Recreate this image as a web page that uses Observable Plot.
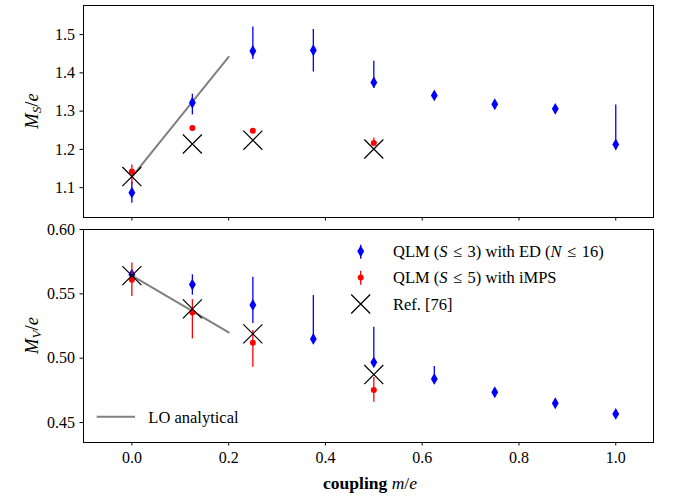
<!DOCTYPE html>
<html><head><meta charset="utf-8">
<script src="https://cdn.jsdelivr.net/npm/d3@7"></script>
<script src="https://cdn.jsdelivr.net/npm/@observablehq/plot@0.6"></script>
<style>
body{margin:0;background:#fff;}
#chart{width:673px;height:497px;overflow:hidden;}
#chart svg{display:block;}
</style></head><body><div id="chart"></div>
<script>
// ---- data ----
const couplingED = [0, 0.125, 0.25, 0.375, 0.5, 0.625, 0.75, 0.875, 1.0];
const couplingMPS = [0, 0.125, 0.25, 0.5];
const couplingRef = [0, 0.125, 0.25, 0.5];
const couplingLO = [0, 0.2];

// scalar mass M_S/e
const msED   = [1.087, 1.322, 1.457, 1.459, 1.375, 1.341, 1.318, 1.306, 1.213];
const msEDlo = [1.059, 1.290, 1.435, 1.402, 1.359, 1.333, 1.310, 1.298, 1.198];
const msEDhi = [1.115, 1.344, 1.520, 1.513, 1.430, 1.349, 1.326, 1.314, 1.316];
const msMPS   = [1.142, 1.256, 1.249, 1.217];
const msMPSlo = [1.107, 1.252, 1.245, 1.210];
const msMPShi = [1.159, 1.260, 1.253, 1.230];
const msRef = [1.129, 1.214, 1.224, 1.201];
const msLO = [1.128, 1.442];

// vector mass M_V/e
const mvED   = [0.565, 0.5572, 0.5414, 0.515, 0.4968, 0.4839, 0.4735, 0.465, 0.4567];
const mvEDlo = [0.562, 0.549, 0.527, 0.511, 0.493, 0.480, 0.4705, 0.462, 0.4537];
const mvEDhi = [0.568, 0.5648, 0.5629, 0.5487, 0.524, 0.4935, 0.4765, 0.468, 0.4597];
const mvMPS   = [0.5609, 0.5355, 0.5121, 0.4753];
const mvMPSlo = [0.548, 0.515, 0.4929, 0.4657];
const mvMPShi = [0.574, 0.5455, 0.5215, 0.485];
const mvRef = [0.5642, 0.5383, 0.5189, 0.4873];
const mvLO = [0.5642, 0.520];

const xTicks = [0, 0.2, 0.4, 0.6, 0.8, 1.0];
const msTicks = [1.1, 1.2, 1.3, 1.4, 1.5];
const mvTicks = [0.45, 0.50, 0.55, 0.60];

// ---- tables ----
const tab = (xs, ys, lo, hi) => xs.map((x, i) => ({x, y: ys[i], lo: lo ? lo[i] : null, hi: hi ? hi[i] : null}));
const topED = tab(couplingED, msED, msEDlo, msEDhi);
const topMPS = tab(couplingMPS, msMPS, msMPSlo, msMPShi);
const topRef = tab(couplingRef, msRef);
const topLO = tab(couplingLO, msLO);
const botED = tab(couplingED, mvED, mvEDlo, mvEDhi);
const botMPS = tab(couplingMPS, mvMPS, mvMPSlo, mvMPShi);
const botRef = tab(couplingRef, mvRef);
const botLO = tab(couplingLO, mvLO);

const FONT = "Liberation Serif";
const BLUE = "#0000ff", RED = "#ff0000";
const xDomain = [-0.1, 1.078];

function seriesMarks(ed, mps, ref, lo) {
  return [
    Plot.line(lo, {x: "x", y: "y", stroke: "#808080", strokeWidth: 2}),
    Plot.ruleX(ed, {x: "x", y1: "lo", y2: "hi", stroke: BLUE, strokeWidth: 1.3}),
    Plot.dot(ed, {x: "x", y: "y", symbol: "diamond", r: 3.6, fill: BLUE, stroke: "none"}),
    Plot.ruleX(mps, {x: "x", y1: "lo", y2: "hi", stroke: RED, strokeWidth: 1.3}),
    Plot.dot(mps, {x: "x", y: "y", r: 3, fill: RED, stroke: "none"}),
    Plot.dot(ref, {x: "x", y: "y", symbol: "times", r: 8.7, stroke: "black", strokeWidth: 1.2, fill: "none"})
  ];
}

const styleObj = {fontFamily: FONT, fontSize: "16px", color: "black", background: "white", overflow: "visible"};

const topPlot = Plot.plot({
  width: 673, height: 222,
  marginLeft: 83, marginRight: 20, marginTop: 5, marginBottom: 5,
  x: {domain: xDomain},
  y: {domain: [1.022, 1.576]},
  style: styleObj,
  marks: [
    Plot.axisY({ticks: msTicks, tickFormat: d3.format(".1f"), tickSize: 3.5, tickPadding: 5, label: null}),
    Plot.axisX({ticks: xTicks, tickFormat: () => "", tickSize: 3.5, label: null}),
    ...seriesMarks(topED, topMPS, topRef, topLO),
    Plot.frame({stroke: "black", strokeWidth: 1})
  ]
});

const bottomPlot = Plot.plot({
  width: 673, height: 275,
  marginLeft: 83, marginRight: 20, marginTop: 7, marginBottom: 55,
  x: {domain: xDomain},
  y: {domain: [0.4345, 0.60]},
  style: styleObj,
  marks: [
    Plot.axisY({ticks: mvTicks, tickFormat: d3.format(".2f"), tickSize: 3.5, tickPadding: 5, label: null}),
    Plot.axisX({ticks: xTicks, tickFormat: d3.format(".1f"), tickSize: 3.5, tickPadding: 6, label: null}),
    ...seriesMarks(botED, botMPS, botRef, botLO),
    Plot.frame({stroke: "black", strokeWidth: 1})
  ]
});

const chart = document.getElementById("chart");
chart.appendChild(topPlot);
chart.appendChild(bottomPlot);

// rich text helper
function rich(sel, parts) {
  parts.forEach(p => {
    const t = sel.append("tspan").text(p.t);
    if (p.i) t.attr("font-style", "italic");
    if (p.b) t.attr("font-weight", "bold");
    if (p.sub) t.attr("font-size", "0.72em").attr("baseline-shift", "-25%");
  });
  return sel;
}

// y labels
function yLabel(svg, parts, cy) {
  const g = d3.select(svg).append("text")
    .attr("transform", `translate(38,${cy}) rotate(-90)`)
    .attr("text-anchor", "middle")
    .attr("font-family", FONT).attr("font-size", 18.5).attr("fill", "black");
  rich(g, parts);
}
yLabel(topPlot, [{t: "M", i: 1}, {t: "S", i: 1, sub: 1}, {t: "/"}, {t: "e", i: 1}], 111);
yLabel(bottomPlot, [{t: "M", i: 1}, {t: "V", i: 1, sub: 1}, {t: "/"}, {t: "e", i: 1}], 113.5);

// x label
rich(d3.select(bottomPlot).append("text")
  .attr("x", 370).attr("y", 267).attr("text-anchor", "middle")
  .attr("font-family", FONT).attr("font-size", 17.5).attr("fill", "black"),
  [{t: "coupling", b: 1}, {t: " "}, {t: "m", i: 1}, {t: "/"}, {t: "e", i: 1}]);

// legend (bottom panel)
const leg = d3.select(bottomPlot).append("g").attr("font-family", FONT).attr("font-size", 16.5)
  .attr("fill", "black").attr("text-anchor", "start");
const lx = 360.7, tx = 393;
const diamond = d3.symbol(d3.symbolDiamond, Math.PI * 3.6 * 3.6)();
const times = d3.symbol(d3.symbolTimes, Math.PI * 8.7 * 8.7)();
const LE = "\u2004≤\u2004";
// ED entry
leg.append("line").attr("x1", lx).attr("x2", lx).attr("y1", 22.7).attr("y2", 36.7).attr("stroke", BLUE).attr("stroke-width", 1.3);
leg.append("path").attr("d", diamond).attr("transform", `translate(${lx},29.3)`).attr("fill", BLUE);
rich(leg.append("text").attr("x", tx).attr("y", 35),
  [{t: "QLM ("}, {t: "S", i: 1}, {t: LE + "3) with ED ("}, {t: "N", i: 1}, {t: LE + "16)"}]);
// MPS entry
leg.append("line").attr("x1", lx).attr("x2", lx).attr("y1", 48.7).attr("y2", 62.7).attr("stroke", RED).attr("stroke-width", 1.3);
leg.append("circle").attr("cx", lx).attr("cy", 55.5).attr("r", 3).attr("fill", RED);
rich(leg.append("text").attr("x", tx).attr("y", 61.2),
  [{t: "QLM ("}, {t: "S", i: 1}, {t: LE + "5) with iMPS"}]);
// Ref entry
leg.append("path").attr("d", times).attr("transform", `translate(${lx},82)`).attr("fill", "none").attr("stroke", "black").attr("stroke-width", 1.2);
leg.append("text").attr("x", tx).attr("y", 87.7).text("Ref. [76]");
// LO entry
leg.append("line").attr("x1", 96.7).attr("x2", 135).attr("y1", 194.7).attr("y2", 194.7).attr("stroke", "#808080").attr("stroke-width", 2);
leg.append("text").attr("x", 148.3).attr("y", 200.5).text("LO analytical");
</script></body></html>
